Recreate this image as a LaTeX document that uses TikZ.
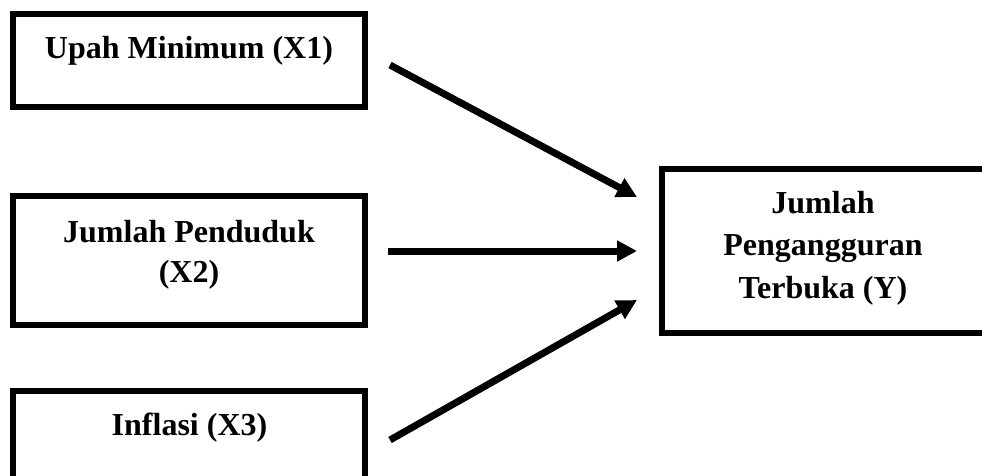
\documentclass[tikz,border=0pt]{standalone}
\usepackage{fontspec}
\setmainfont{Liberation Serif}
\usetikzlibrary{arrows.meta}
\begin{document}
\begin{tikzpicture}[x=0.75pt,y=-0.75pt,
  box/.style={draw,line width=4.5pt,rectangle,inner sep=0pt,outer sep=0pt},
  lbl/.style={anchor=base,inner sep=0pt,font=\bfseries\fontsize{24}{30}\selectfont},
  arr/.style={line width=5.25pt,-{Triangle[length=15pt,width=15pt]}}]
\useasboundingbox (0,0) rectangle (982,475);
\clip (0,0) rectangle (982,475);
% boxes
\node[box,minimum width=264pt,minimum height=69.75pt] (b1) at (189,60.5) {};
\node[box,minimum width=264pt,minimum height=96.75pt] (b2) at (189,260.5) {};
\node[box,minimum width=264pt,minimum height=81.75pt] (b3) at (189,445.5) {};
\node[box,minimum width=244.875pt,minimum height=123pt] (by) at (824.75,251) {};
% labels
\node[lbl] (t1) at (189,58) {Upah Minimum (X1)};
\node[lbl] (t2a) at (189,242) {Jumlah Penduduk};
\node[lbl] (t2b) at (189,282) {(X2)};
\node[lbl] (t3) at (189.5,435) {Inflasi (X3)};
\node[lbl] (ya) at (823,213) {Jumlah};
\node[lbl] (yb) at (823,255.5) {Pengangguran};
\node[lbl] (yc) at (823,298) {Terbuka (Y)};
% connector ends
\coordinate (a1s) at (390,65);
\coordinate (a1e) at (637,197);
\coordinate (a2s) at (388,251);
\coordinate (a2e) at (637,251);
\coordinate (a3s) at (390,440);
\coordinate (a3e) at (637,300);
\draw[arr] (a1s) -- (a1e);
\draw[arr] (a2s) -- (a2e);
\draw[arr] (a3s) -- (a3e);
\end{tikzpicture}
\end{document}
